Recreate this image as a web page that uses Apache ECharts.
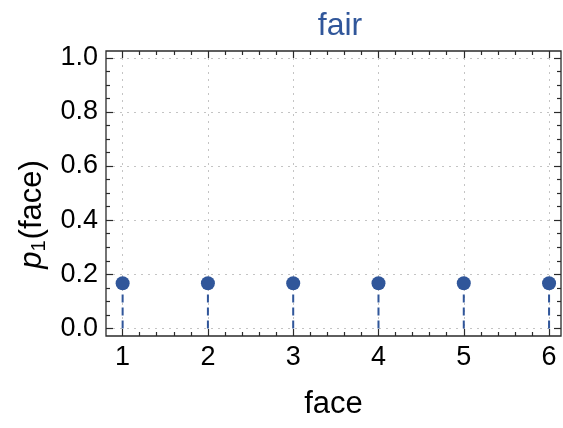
<!DOCTYPE html>
<html>
<head>
<meta charset="utf-8">
<script src="https://cdn.jsdelivr.net/npm/echarts@6/dist/echarts.min.js"></script>
<style>
  html, body { margin: 0; padding: 0; background: #fff; }
  #chart { width: 563px; height: 428px; }
</style>
</head>
<body>
<div id="chart"></div>
<script>
// Probability of each face of a fair die
const faces = [1, 2, 3, 4, 5, 6];
const probs = [0.1667, 0.1667, 0.1667, 0.1667, 0.1667, 0.1667];

// Axis ranges and tick marks
const xRange = [0.805, 6.14];
const yRange = [-0.028, 1.025];
const xTicks = [1, 2, 3, 4, 5, 6];
const yTicks = [0, 0.2, 0.4, 0.6, 0.8, 1.0];
const xMinorTicks = [1.2, 1.4, 1.6, 1.8, 2.2, 2.4, 2.6, 2.8, 3.2, 3.4, 3.6, 3.8,
                     4.2, 4.4, 4.6, 4.8, 5.2, 5.4, 5.6, 5.8];
const yMinorTicks = [0.05, 0.1, 0.15, 0.25, 0.3, 0.35, 0.45, 0.5, 0.55,
                     0.65, 0.7, 0.75, 0.85, 0.9, 0.95];

const BLUE = '#30569a';
const FRAME = '#2a2a2a';
const FONT = '"Liberation Sans", Arial, Helvetica, sans-serif';

const chart = echarts.init(document.getElementById('chart'), null, { renderer: 'canvas' });

// A frame axis carrying only inward ticks (no labels, no line)
function tickAxis(range, position, values, len) {
  return {
    type: 'value', min: range[0], max: range[1], position: position,
    axisLine: { show: false, onZero: false },
    axisTick: { show: true, inside: true, length: len, customValues: values,
                lineStyle: { color: FRAME, width: 1.2 } },
    axisLabel: { show: false },
    splitLine: { show: false }
  };
}

const xMain = {
  type: 'value', min: xRange[0], max: xRange[1], position: 'bottom',
  axisLine: { show: false, onZero: false },
  axisTick: { show: true, inside: true, length: 7, customValues: xTicks,
              lineStyle: { color: FRAME, width: 1.2 } },
  axisLabel: { customValues: xTicks, margin: 8, fontSize: 27, color: '#000', fontFamily: FONT,
               formatter: v => String(v) },
  splitLine: { show: true, lineStyle: { color: '#c4c4c4', type: [2, 5], width: 1 } },
  name: 'face', nameLocation: 'middle', nameGap: 53,
  nameTextStyle: { fontSize: 31, color: '#000', fontFamily: FONT }
};

const yMain = {
  type: 'value', min: yRange[0], max: yRange[1], position: 'left',
  axisLine: { show: false, onZero: false },
  axisTick: { show: true, inside: true, length: 7, customValues: yTicks,
              lineStyle: { color: FRAME, width: 1.2 } },
  axisLabel: { customValues: yTicks, margin: 8, fontSize: 27, color: '#000', fontFamily: FONT,
               formatter: v => v.toFixed(1) },
  splitLine: { show: true, lineStyle: { color: '#c4c4c4', type: [2, 5], width: 1 } },
  name: '{i|p}{s|1}{n|(face)}', nameLocation: 'middle', nameGap: 56, nameRotate: 90,
  nameTextStyle: {
    color: '#000', fontFamily: FONT, padding: [0, 42, 0, 0],
    rich: {
      i: { fontSize: 31, fontStyle: 'italic', fontFamily: FONT, color: '#000' },
      s: { fontSize: 20, fontFamily: FONT, color: '#000', padding: [14, 1, 0, 0] },
      n: { fontSize: 31, fontFamily: FONT, color: '#000' }
    }
  }
};

const option = {
  animation: false,
  backgroundColor: '#fff',
  title: {
    text: 'fair', left: 335, top: 5, textAlign: 'center',
    textStyle: { fontSize: 32, fontWeight: 'normal', color: BLUE, fontFamily: FONT }
  },
  grid: {
    left: 106, right: 2, top: 51, bottom: 92,
    show: true, borderColor: FRAME, borderWidth: 1.3, backgroundColor: 'transparent'
  },
  xAxis: [
    xMain,
    tickAxis(xRange, 'bottom', xMinorTicks, 4),
    tickAxis(xRange, 'top', xTicks, 7),
    tickAxis(xRange, 'top', xMinorTicks, 4)
  ],
  yAxis: [
    yMain,
    tickAxis(yRange, 'left', yMinorTicks, 4),
    tickAxis(yRange, 'right', yTicks, 7),
    tickAxis(yRange, 'right', yMinorTicks, 4)
  ],
  series: [
    {
      // dashed stems from zero up to each probability
      type: 'custom',
      xAxisIndex: 0, yAxisIndex: 0,
      data: faces.map((f, i) => [f, probs[i]]),
      renderItem: function (params, api) {
        const top = api.coord([api.value(0), api.value(1)]);
        const base = api.coord([api.value(0), 0]);
        return {
          type: 'line',
          shape: { x1: base[0], y1: base[1], x2: top[0], y2: top[1] },
          style: { stroke: BLUE, lineWidth: 2, lineDash: [8, 5] }
        };
      },
      z: 2
    },
    {
      type: 'scatter',
      xAxisIndex: 0, yAxisIndex: 0,
      data: faces.map((f, i) => [f, probs[i]]),
      symbol: 'circle', symbolSize: 14,
      itemStyle: { color: BLUE, opacity: 1 },
      z: 3
    }
  ]
};

chart.setOption(option);
</script>
</body>
</html>
